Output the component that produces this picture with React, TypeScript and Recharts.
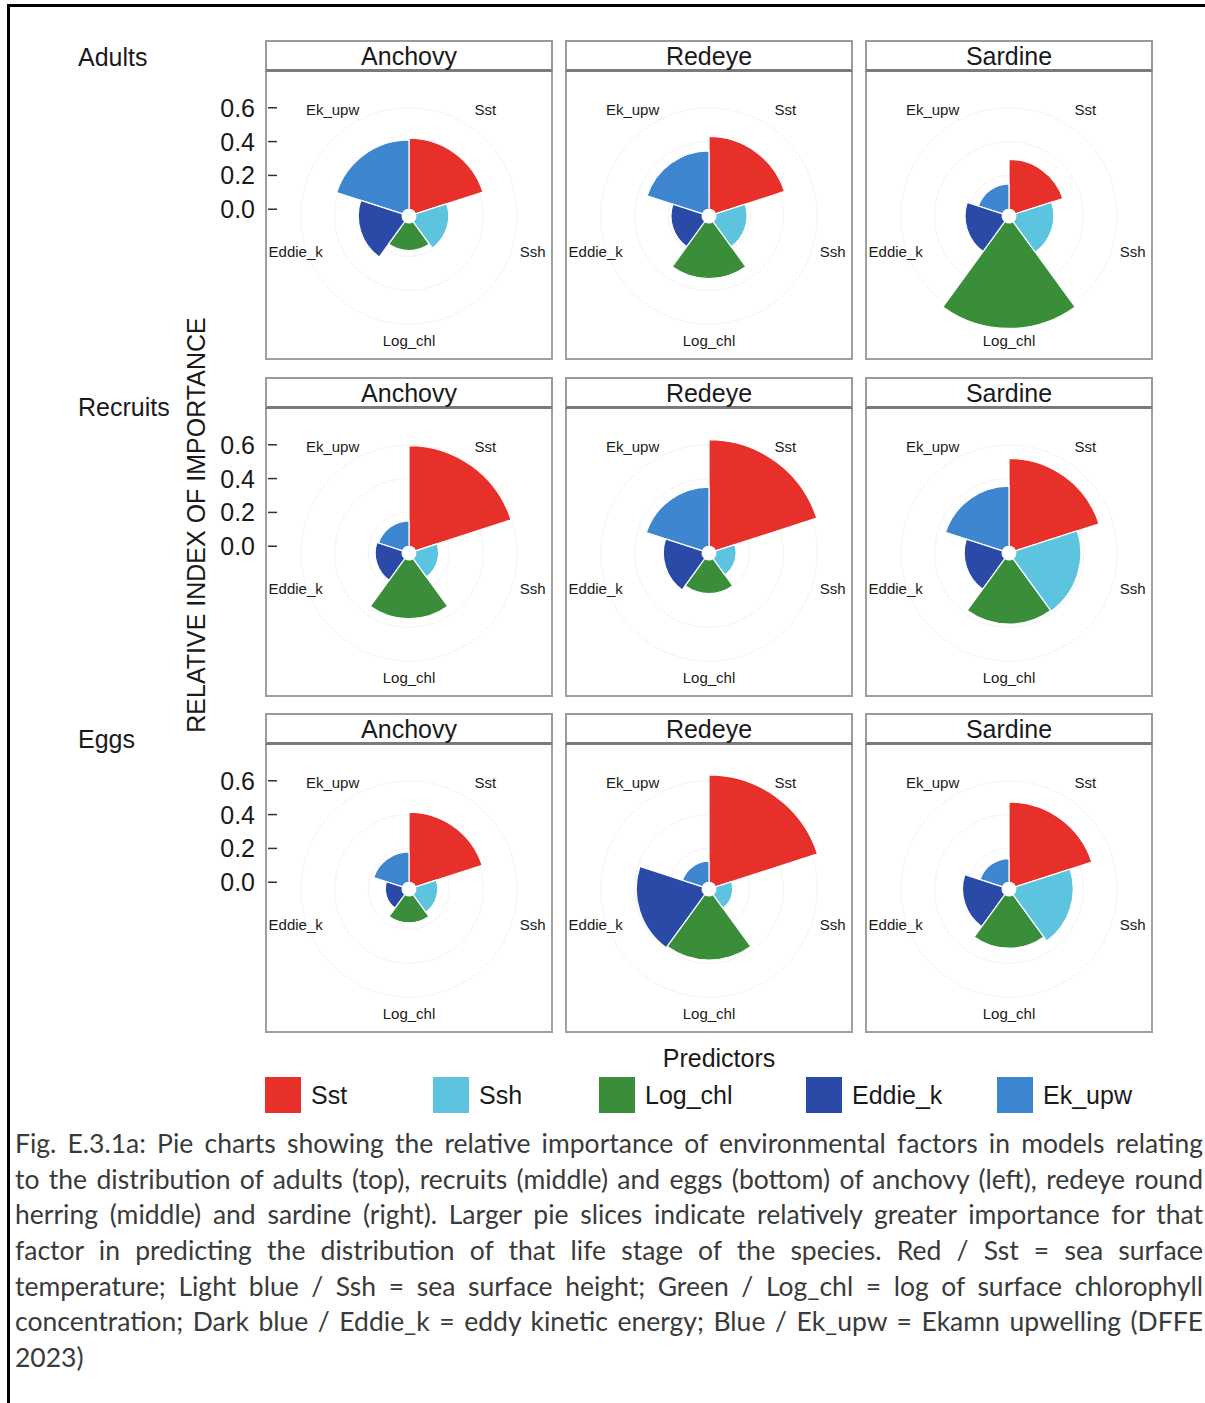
import { RadialBarChart, RadialBar, PolarAngleAxis, PolarRadiusAxis, PolarGrid, Cell } from "recharts"

const predictors = ["Sst", "Ssh", "Log_chl", "Eddie_k", "Ek_upw"]
const predictorColors = ["#e8302a", "#5cc4de", "#3a8e3a", "#2b4aa8", "#3f86d0"]
const species = ["Anchovy", "Redeye", "Sardine"]
const stages = ["Adults", "Recruits", "Eggs"]
const radiusTicks = [0, 0.2, 0.4, 0.6]
// the angle scale runs counter-clockwise, so wedges are fed in this order
// to end up clockwise from 12 o'clock: Sst, Ssh, Log_chl, Eddie_k, Ek_upw
const angularOrder = [0, 4, 3, 2, 1]

// relative index of importance, same order as predictors
const adultsAnchovy = [0.42, 0.195, 0.165, 0.26, 0.41]
const adultsRedeye = [0.43, 0.185, 0.33, 0.185, 0.345]
const adultsSardine = [0.295, 0.225, 0.625, 0.22, 0.15]
const recruitsAnchovy = [0.595, 0.135, 0.35, 0.16, 0.15]
const recruitsRedeye = [0.63, 0.12, 0.2, 0.23, 0.35]
const recruitsSardine = [0.52, 0.385, 0.38, 0.225, 0.355]
const eggsAnchovy = [0.415, 0.13, 0.16, 0.1, 0.18]
const eggsRedeye = [0.635, 0.1, 0.38, 0.39, 0.125]
const eggsSardine = [0.475, 0.34, 0.31, 0.235, 0.14]

const importance = [
    [adultsAnchovy, adultsRedeye, adultsSardine],
    [recruitsAnchovy, recruitsRedeye, recruitsSardine],
    [eggsAnchovy, eggsRedeye, eggsSardine],
]

const captionLines = [
    "Fig. E.3.1a: Pie charts showing the relative importance of environmental factors in models relating",
    "to the distribution of adults (top), recruits (middle) and eggs (bottom) of anchovy (left), redeye round",
    "herring (middle) and sardine (right). Larger pie slices indicate relatively greater importance for that",
    "factor in predicting the distribution of that life stage of the species. Red / Sst = sea surface",
    "temperature; Light blue / Ssh = sea surface height; Green / Log_chl = log of surface chlorophyll",
    "concentration; Dark blue / Eddie_k = eddy kinetic energy; Blue / Ek_upw = Ekamn upwelling (DFFE",
    "2023)",
]

const FONT = '"Liberation Sans", Arial, Helvetica, sans-serif'
const PANEL = 288
const colLeft = [265, 565, 865]
const rowTop = [40, 377, 713]
const STRIP = 32
const stageLabelY = [57, 407, 739]
const legendLeft = [265, 433, 599, 806, 997]

// axis puts category ticks at the start of each band; move them to the band middle
// and keep them inside the panel frame
function AngleTick(props: any) {
    const { x, y, payload } = props
    const c = PANEL / 2
    const r = Math.hypot(x - c, y - c)
    const a = Math.atan2(c - y, x - c) + Math.PI / predictors.length
    const half = String(payload.value).length * 3.95
    let tx = c + r * Math.cos(a)
    tx = Math.max(half + 3, Math.min(PANEL - half - 3, tx))
    const s = Math.sin(a)
    const ty = c - r * s - (s < 0 ? 4 - 2 * s : 1)
    return (
        <text x={tx} y={ty} textAnchor="middle" dominantBaseline="central"
            fontSize={15} fontFamily={FONT} fill="#1a1a1a">
            {payload.value}
        </text>
    )
}

function RadiusTick(props: any) {
    const { y, payload } = props
    return (
        <g>
            <line x1={3} x2={12} y1={y} y2={y} stroke="#333" strokeWidth={1.5} />
            <text x={-10} y={y} textAnchor="end" dominantBaseline="central"
                fontSize={25} fontFamily={FONT} fill="#1a1a1a">
                {Number(payload.value).toFixed(1)}
            </text>
        </g>
    )
}

function RosePanel({ values, showAxis }: { values: number[], showAxis: boolean }) {
    const data = angularOrder.map((k) => ({ name: predictors[k], value: values[k], color: predictorColors[k] }))
    return (
        <RadialBarChart
            width={PANEL}
            height={PANEL}
            data={data}
            layout="centric"
            cx="50%"
            cy="50%"
            innerRadius={0}
            outerRadius={115}
            startAngle={90}
            endAngle={450}
            barCategoryGap={0}
            margin={{ top: 0, right: 0, bottom: 0, left: 0 }}
        >
            <PolarGrid gridType="circle" radialLines={false} stroke="#f3f3f3" />
            <PolarAngleAxis dataKey="name" type="category" axisLine={false} tickLine={false}
                tickSize={15} tick={AngleTick} />
            <PolarRadiusAxis type="number" domain={[-0.04, 0.64]} allowDataOverflow allowDecimals
                tickCount={18} ticks={radiusTicks} angle={90}
                axisLine={false} tickLine={false} tick={showAxis ? RadiusTick : false} />
            <RadialBar dataKey="value" isAnimationActive={false} stroke="#ffffff" strokeWidth={1.2}>
                {data.map((d) => <Cell key={d.name} fill={d.color} />)}
            </RadialBar>
        </RadialBarChart>
    )
}

export default function App() {
    return (
        <div style={{ position: "absolute", left: 0, top: 0, width: 1205, height: 1403, background: "#fff", fontFamily: FONT, color: "#1a1a1a" }}>
            <style>{`html,body{overflow:hidden}.recharts-surface{overflow:visible}`}</style>

            {/* figure frame, cropped on the right and bottom */}
            <div style={{ position: "absolute", left: 7, top: 4, width: 1198, height: 1399, borderTop: "3px solid #000", borderLeft: "3px solid #000", boxSizing: "border-box" }} />

            {stages.map((s, r) => (
                <div key={s} style={{ position: "absolute", left: 78, top: stageLabelY[r] - 15, fontSize: 25, lineHeight: "30px" }}>{s}</div>
            ))}

            <div style={{ position: "absolute", left: 196, top: 525, transform: "translate(-50%, -50%) rotate(-90deg)", fontSize: 25, whiteSpace: "nowrap" }}>
                RELATIVE INDEX OF IMPORTANCE
            </div>

            {stages.map((s, r) => species.map((sp, c) => (
                <div key={s + sp}>
                    <div style={{ position: "absolute", left: colLeft[c], top: rowTop[r], width: PANEL, height: STRIP, boxSizing: "border-box", border: "2px solid #9a9a9a", borderBottom: "3px solid #7a7a7a", textAlign: "center", fontSize: 25, lineHeight: "28px" }}>
                        {sp}
                    </div>
                    <div style={{ position: "absolute", left: colLeft[c], top: rowTop[r] + STRIP, width: PANEL, height: PANEL, boxSizing: "border-box", border: "2px solid #a0a0a0", borderTop: "none" }} />
                    <div style={{ position: "absolute", left: colLeft[c], top: rowTop[r] + STRIP }}>
                        <RosePanel values={importance[r][c]} showAxis={c === 0} />
                    </div>
                </div>
            )))}

            <div style={{ position: "absolute", left: 719, top: 1058, transform: "translate(-50%, -50%)", fontSize: 25 }}>Predictors</div>
            {predictors.map((p, i) => (
                <div key={p}>
                    <div style={{ position: "absolute", left: legendLeft[i], top: 1077, width: 36, height: 36, background: predictorColors[i] }} />
                    <div style={{ position: "absolute", left: legendLeft[i] + 46, top: 1080, fontSize: 25, lineHeight: "30px" }}>{p}</div>
                </div>
            ))}

            <div style={{ position: "absolute", left: 15, top: 1126, width: 1188, fontFamily: "Lato, 'Open Sans', sans-serif", fontSize: 26.5, color: "#3a3a3a" }}>
                {captionLines.map((line, i) => (
                    <div key={i} style={{ height: 35.7, lineHeight: "35.7px", whiteSpace: "nowrap", textAlign: "justify", textAlignLast: i < captionLines.length - 1 ? "justify" : "left" } as any}>
                        {line}
                    </div>
                ))}
            </div>
        </div>
    )
}
